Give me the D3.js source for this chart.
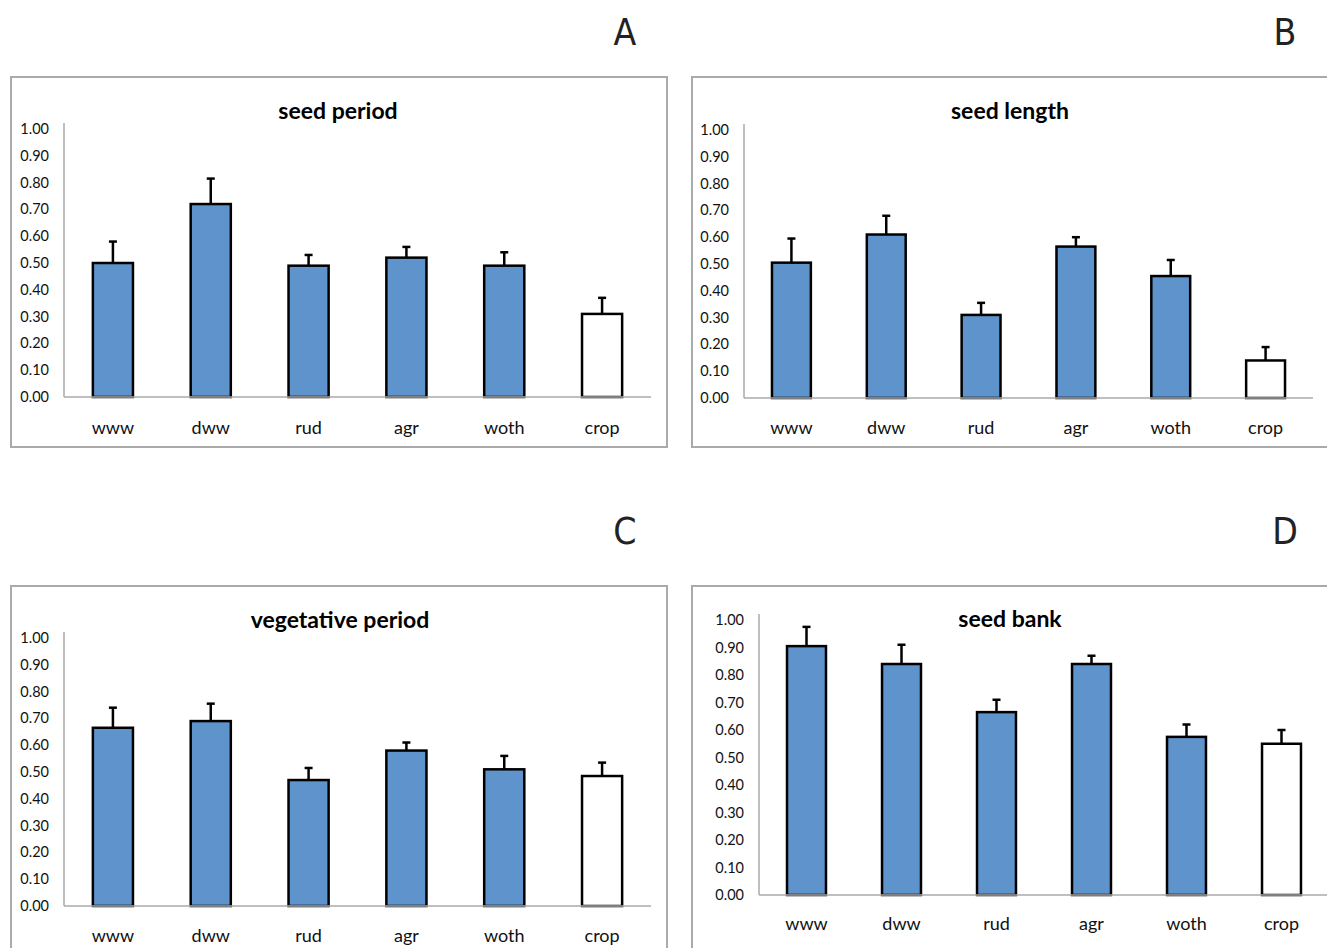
<!DOCTYPE html>
<html>
<head>
<meta charset="utf-8">
<script src="https://cdn.jsdelivr.net/npm/d3@7"></script>
<style>
  body { margin: 0; background: #fff; }
  svg { display: block; }
</style>
</head>
<body>
<script>
// categories and values
var categories = ["www", "dww", "rud", "agr", "woth", "crop"];
var yTicks = [0, 0.1, 0.2, 0.3, 0.4, 0.5, 0.6, 0.7, 0.8, 0.9, 1.0];

var titles = ["seed period", "seed length", "vegetative period", "seed bank"];
var letters = ["A", "B", "C", "D"];

var seedPeriod     = [0.50, 0.72, 0.49, 0.52, 0.49, 0.31];
var seedPeriodErr  = [0.08, 0.095, 0.04, 0.04, 0.05, 0.06];
var seedLength     = [0.505, 0.61, 0.31, 0.565, 0.455, 0.14];
var seedLengthErr  = [0.09, 0.07, 0.045, 0.035, 0.06, 0.05];
var vegPeriod      = [0.665, 0.69, 0.47, 0.58, 0.51, 0.485];
var vegPeriodErr   = [0.075, 0.065, 0.045, 0.03, 0.05, 0.05];
var seedBank       = [0.905, 0.84, 0.665, 0.84, 0.575, 0.55];
var seedBankErr    = [0.07, 0.07, 0.045, 0.03, 0.045, 0.05];

var values = [seedPeriod, seedLength, vegPeriod, seedBank];
var errors = [seedPeriodErr, seedLengthErr, vegPeriodErr, seedBankErr];

var w = 1327, h = 948;
var blue = "#5f93cb";
var font = "Lato, 'Open Sans', sans-serif";

// layout of each panel
var panels = [
  { fx: 11,  fy: 77,  fw: 656, fh: 370, left: 64,  right: 651,  top: 129, bottom: 397, tx: 338,  ty: 119, ly: 434, lx: 625,  lly: 45 },
  { fx: 692, fy: 77,  fw: 660, fh: 370, left: 744, right: 1313, top: 130, bottom: 398, tx: 1010, ty: 119, ly: 434, lx: 1285, lly: 45 },
  { fx: 11,  fy: 586, fw: 656, fh: 380, left: 64,  right: 651,  top: 638, bottom: 906, tx: 340,  ty: 628, ly: 942, lx: 625,  lly: 544 },
  { fx: 692, fy: 586, fw: 660, fh: 380, left: 759, right: 1329, top: 620, bottom: 895, tx: 1010, ty: 627, ly: 930, lx: 1285, lly: 544 }
];

var svg = d3.select("body").append("svg")
            .attr("width", w)
            .attr("height", h);

panels.forEach(function(p, k)
{
  var g = svg.append("g");

  // panel letter
  svg.append("text")
     .attr("x", p.lx)
     .attr("y", p.lly)
     .attr("text-anchor", "middle")
     .attr("font-family", "'Liberation Sans Narrow', 'DejaVu Sans Condensed', sans-serif")
     .attr("font-size", "37px")
     .attr("fill", "#222")
     .text(letters[k]);

  // frame
  g.append("rect")
   .attr("x", p.fx)
   .attr("y", p.fy)
   .attr("width", p.fw)
   .attr("height", p.fh)
   .attr("fill", "#fff")
   .attr("stroke", "#aaa")
   .attr("stroke-width", 2);

  var x = d3.scaleBand().domain(categories).range([p.left, p.right]).padding(0);
  var y = d3.scaleLinear().domain([0, 1]).range([p.bottom, p.top]);
  var bw = x.bandwidth() * 0.41;

  // y axis line and tick labels
  g.append("line")
   .attr("x1", p.left).attr("x2", p.left)
   .attr("y1", p.top - 6).attr("y2", p.bottom)
   .attr("stroke", "#aaa").attr("stroke-width", 1.5);

  g.selectAll("text.tick").data(yTicks)
   .enter().append("text")
   .attr("class", "tick")
   .attr("x", p.left - 15)
   .attr("y", function(d) { return y(d); })
   .attr("dy", "0.35em")
   .attr("text-anchor", "end")
   .attr("font-family", font)
   .attr("font-size", "14.5px")
   .attr("fill", "#111")
   .text(function(d) { return d3.format(".2f")(d); });

  // bars
  g.selectAll("rect.bar").data(values[k])
   .enter().append("rect")
   .attr("class", "bar")
   .attr("x", function(d, i) { return x(categories[i]) + (x.bandwidth() - bw) / 2; })
   .attr("y", function(d) { return y(d); })
   .attr("width", bw)
   .attr("height", function(d) { return y(0) - y(d); })
   .attr("fill", function(d, i) { return categories[i] == "crop" ? "#fff" : blue; })
   .attr("stroke", "#000")
   .attr("stroke-width", 2.5);

  // error bars (upper only)
  var errs = values[k].map(function(d, i) { return { v: d, e: errors[k][i], c: categories[i] }; });
  g.selectAll("line.err").data(errs)
   .enter().append("line")
   .attr("x1", function(d) { return x(d.c) + x.bandwidth() / 2; })
   .attr("x2", function(d) { return x(d.c) + x.bandwidth() / 2; })
   .attr("y1", function(d) { return y(d.v); })
   .attr("y2", function(d) { return y(d.v + d.e); })
   .attr("stroke", "#000").attr("stroke-width", 2.5);

  g.selectAll("line.cap").data(errs)
   .enter().append("line")
   .attr("x1", function(d) { return x(d.c) + x.bandwidth() / 2 - 4; })
   .attr("x2", function(d) { return x(d.c) + x.bandwidth() / 2 + 4; })
   .attr("y1", function(d) { return y(d.v + d.e); })
   .attr("y2", function(d) { return y(d.v + d.e); })
   .attr("stroke", "#000").attr("stroke-width", 2.5);

  // baseline
  g.append("line")
   .attr("x1", p.left).attr("x2", p.right)
   .attr("y1", p.bottom).attr("y2", p.bottom)
   .attr("stroke", "#aaa").attr("stroke-width", 1.5);

  // category labels
  g.selectAll("text.cat").data(categories)
   .enter().append("text")
   .attr("class", "cat")
   .attr("x", function(d) { return x(d) + x.bandwidth() / 2; })
   .attr("y", p.ly)
   .attr("text-anchor", "middle")
   .attr("font-family", font)
   .attr("font-size", "18px")
   .attr("fill", "#111")
   .text(function(d) { return d; });

  // title
  g.append("text")
   .attr("x", p.tx)
   .attr("y", p.ty)
   .attr("text-anchor", "middle")
   .attr("font-family", font)
   .attr("font-weight", "bold")
   .attr("font-size", "23px")
   .attr("fill", "#000")
   .text(titles[k]);
});
</script>
</body>
</html>
